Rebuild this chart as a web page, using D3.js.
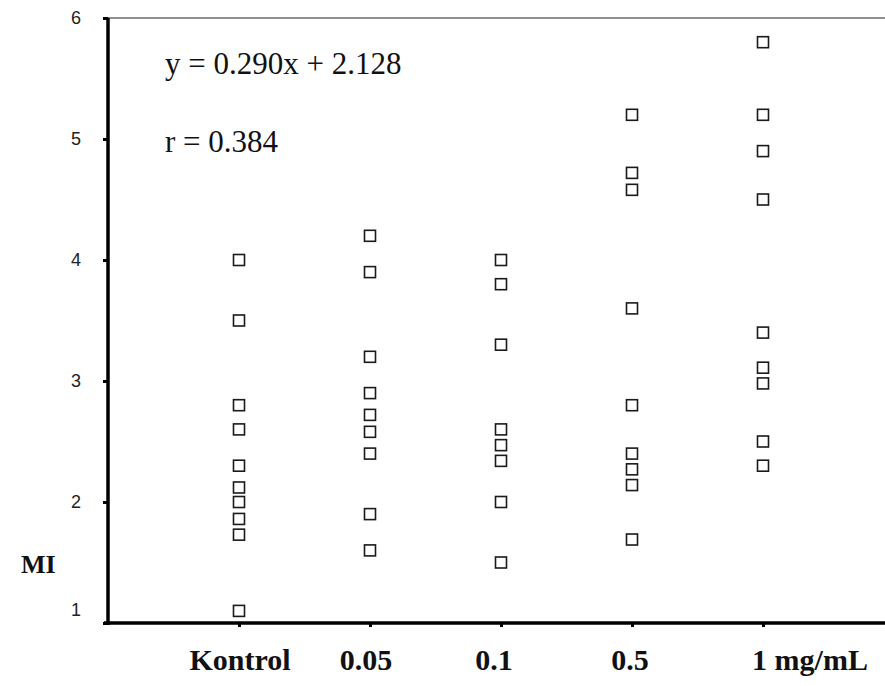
<!DOCTYPE html>
<html>
<head>
<meta charset="utf-8">
<script src="https://cdn.jsdelivr.net/npm/d3@7"></script>
<style>
  html, body { margin: 0; padding: 0; background: #fff; }
  svg { display: block; }
</style>
</head>
<body>
<svg id="chart" width="885" height="686"></svg>
<script>
// Dose groups along the x axis
const categories = ["Kontrol", "0.05", "0.1", "0.5", "1 mg/mL"];

// MI values per group
const kontrol = [4.0, 3.5, 2.8, 2.6, 2.3, 2.12, 2.0, 1.86, 1.73, 1.1];
const dose005 = [4.2, 3.9, 3.2, 2.9, 2.72, 2.58, 2.4, 1.9, 1.6];
const dose01  = [4.0, 3.8, 3.3, 2.6, 2.47, 2.34, 2.0, 1.5];
const dose05  = [5.2, 4.72, 4.58, 3.6, 2.8, 2.4, 2.27, 2.14, 1.69];
const dose1   = [5.8, 5.2, 4.9, 4.5, 3.4, 3.11, 2.98, 2.5, 2.3];
const groups = [kontrol, dose005, dose01, dose05, dose1];

// Y axis ticks and the regression annotation
const yTicks = [1, 2, 3, 4, 5, 6];
const equationText = "y = 0.290x + 2.128";
const rText = "r = 0.384";
const yAxisTitle = "MI";

const svg = d3.select("#chart");
const W = 885;

// Group index -1 sits on the y axis; groups are evenly spaced to the right
const x = d3.scaleLinear().domain([-1, 5]).range([108, 894]);
const y = d3.scaleLinear().domain([1, 6]).range([623, 18]);

// Frame: thin top border
svg.append("line")
  .attr("x1", x(-1)).attr("x2", W)
  .attr("y1", y(6)).attr("y2", y(6))
  .attr("stroke", "#222").attr("stroke-width", 1.2);

// Y axis
const yAxis = d3.axisLeft(y).tickValues(yTicks).tickSize(5).tickPadding(22)
  .tickFormat(d3.format("d"));
const gy = svg.append("g").attr("transform", `translate(${x(-1)},0)`).call(yAxis);
gy.select(".domain").remove();
gy.selectAll(".tick line").attr("stroke", "#000").attr("stroke-width", 3);
gy.selectAll(".tick text")
  .attr("font-family", "Liberation Sans, Arial, sans-serif")
  .attr("font-size", 18).attr("fill", "#222")
  // the lowest label sits a little above its tick, clear of the x axis
  .attr("dy", d => d === 1 ? "-0.42em" : "0.32em");
svg.append("line")
  .attr("x1", x(-1)).attr("x2", x(-1))
  .attr("y1", y(6)).attr("y2", y(1) + 2)
  .attr("stroke", "#000").attr("stroke-width", 3.5);

// X axis
const xAxis = d3.axisBottom(x).tickValues(d3.range(categories.length))
  .tickSize(4).tickFormat("");
const gx = svg.append("g").attr("transform", `translate(0,${y(1)})`).call(xAxis);
gx.select(".domain").remove();
gx.selectAll(".tick line").attr("stroke", "#000").attr("stroke-width", 3);
svg.append("line")
  .attr("x1", x(-1) - 4).attr("x2", W)
  .attr("y1", y(1)).attr("y2", y(1))
  .attr("stroke", "#000").attr("stroke-width", 3.5);

// Category labels, nudged horizontally from their tick
const labelShift = [1, -4, -7, -2, 47];
svg.append("g").selectAll("text").data(categories).join("text")
  .attr("x", (d, i) => x(i) + labelShift[i])
  .attr("y", 670)
  .attr("text-anchor", "middle")
  .attr("font-family", "Liberation Serif, Times New Roman, serif")
  .attr("font-weight", "bold").attr("font-size", 30).attr("fill", "#111")
  .text(d => d);

// Y axis title
svg.append("text")
  .attr("x", 21).attr("y", 573)
  .attr("font-family", "Liberation Serif, Times New Roman, serif")
  .attr("font-weight", "bold").attr("font-size", 26).attr("fill", "#111")
  .text(yAxisTitle);

// Regression equation and correlation
svg.append("text").attr("x", 165).attr("y", 74)
  .attr("font-family", "Liberation Serif, Times New Roman, serif")
  .attr("font-size", 31).attr("fill", "#111").text(equationText);
svg.append("text").attr("x", 165).attr("y", 152)
  .attr("font-family", "Liberation Serif, Times New Roman, serif")
  .attr("font-size", 31).attr("fill", "#111").text(rText);

// Open square markers
const s = 11;
const pts = groups.flatMap((vals, i) => vals.map(v => ({ i, v })));
svg.append("g").selectAll("rect").data(pts).join("rect")
  .attr("x", d => x(d.i) - s / 2)
  .attr("y", d => y(d.v) - s / 2)
  .attr("width", s).attr("height", s)
  .attr("fill", "#fff").attr("stroke", "#1a1a1a").attr("stroke-width", 1.6);
</script>
</body>
</html>
